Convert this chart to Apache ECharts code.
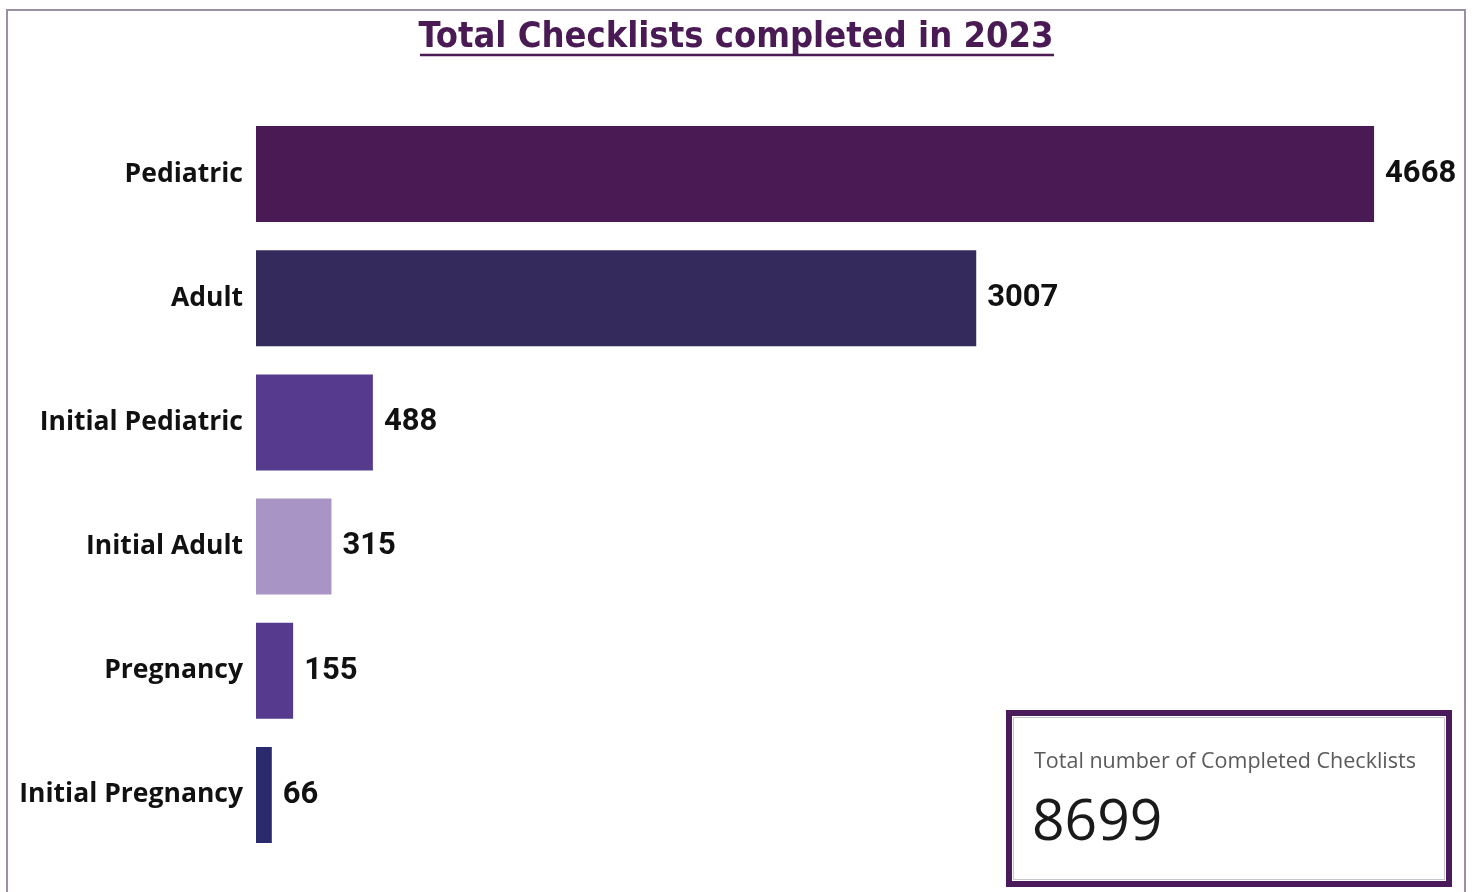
<!DOCTYPE html>
<html>
<head>
<meta charset="utf-8">
<script src="https://cdn.jsdelivr.net/npm/echarts@6/dist/echarts.min.js"></script>
<style>
html,body{margin:0;padding:0;background:#fff;}
#chart{width:1472px;height:892px;}
</style>
</head>
<body>
<div id="chart"></div>
<script>
const categories = ['Pediatric', 'Adult', 'Initial Pediatric', 'Initial Adult', 'Pregnancy', 'Initial Pregnancy'];
const values = [4668, 3007, 488, 315, 155, 66];
const barColors = ['#4a1a55', '#352a5c', '#553a8e', '#a895c6', '#553a8e', '#2b2a6c'];
const titleText = 'Total Checklists completed in 2023';
const cardLabel = 'Total number of Completed Checklists';
const cardValue = values.reduce((a, b) => a + b, 0); // 8699

const chart = echarts.init(document.getElementById('chart'));
chart.setOption({
  animation: false,
  backgroundColor: '#ffffff',
  title: {
    text: titleText,
    left: 'center',
    top: 15,
    textStyle: {
      fontFamily: '"DejaVu Sans Condensed", "DejaVu Sans", sans-serif',
      fontWeight: 'bold',
      fontSize: 36,
      color: '#4a1a55'
    }
  },
  grid: { left: 256, right: 18.4, top: 112, bottom: 35, containLabel: false },
  xAxis: {
    type: 'value', min: 0, max: 5000,
    show: false
  },
  yAxis: {
    type: 'category',
    data: categories,
    inverse: true,
    axisLine: { show: false },
    axisTick: { show: false },
    axisLabel: {
      margin: 13,
      padding: [10, 0, 0, 0],
      fontFamily: '"Open Sans", sans-serif',
      fontWeight: 'bold',
      fontSize: 26.5,
      color: '#111111'
    }
  },
  series: [{
    type: 'bar',
    barWidth: 96,
    data: values.map((v, i) => ({ value: v, itemStyle: { color: barColors[i] } })),
    label: {
      show: true,
      position: 'right',
      distance: 11,
      padding: [10, 0, 0, 0],
      fontFamily: '"Roboto", "DejaVu Sans", sans-serif',
      fontWeight: 'bold',
      fontSize: 31,
      color: '#111111'
    }
  }],
  graphic: [
    { type: 'rect', shape: { x: 7, y: 10, width: 1458, height: 900 }, style: { fill: 'none', stroke: '#9a90a2', lineWidth: 2 }, z: 0, silent: true },
    { type: 'rect', shape: { x: 420, y: 55, width: 634, height: 0 }, style: { fill: 'none', stroke: '#4a1a55', lineWidth: 2.5 }, silent: true },
    { type: 'rect', shape: { x: 1009, y: 713, width: 440, height: 171 }, style: { fill: '#ffffff', stroke: '#4a1a5a', lineWidth: 6 }, silent: true },
    { type: 'rect', shape: { x: 1013.5, y: 717.5, width: 431, height: 162 }, style: { fill: 'none', stroke: '#c8c4cc', lineWidth: 1 }, silent: true },
    { type: 'text', left: 1034, top: 751, style: { text: cardLabel, fontFamily: '"Open Sans", sans-serif', fontSize: 21.5, fill: '#5a5a5a' } },
    { type: 'text', left: 1032, top: 795, style: { text: String(cardValue), fontFamily: '"Open Sans", sans-serif', fontSize: 57, fill: '#1a1a1a' } }
  ]
});
</script>
</body>
</html>
